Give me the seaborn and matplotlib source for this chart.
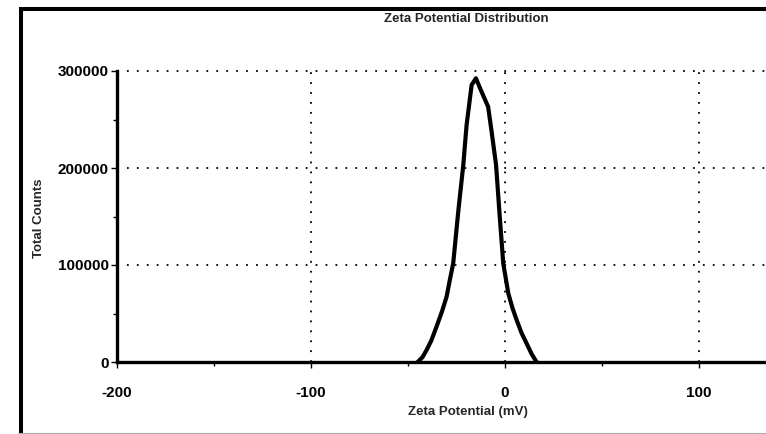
import matplotlib
matplotlib.use("Agg")
import matplotlib.pyplot as plt
import seaborn as sns
import pandas as pd
from matplotlib.lines import Line2D

# Data
zeta_mv = [-45, -42.5, -40.4, -38.0, -35.3, -32.5, -30.1, -28.5, -26.7, -24.1, -21.5,
           -19.8, -17.2, -15.0, -12.1, -8.7, -6.9, -4.6, -2.9, -0.9, 1.7, 3.8,
           6.0, 8.5, 11.1, 13.8, 16.3]
total_counts = [0, 5000, 12400, 22000, 36400, 52000, 67300, 84000, 101700, 155000, 203100,
                244300, 285600, 292500, 278700, 263200, 237400, 203100, 155000, 101700, 70800, 56000,
                43300, 30000, 19300, 8000, 0]
x_ticks = [-200, -100, 0, 100]
y_ticks = [0, 100000, 200000, 300000]

sns.set_style("white")
plt.rcParams['font.family'] = ['Liberation Sans', 'DejaVu Sans']

W, H = 766, 434
fig = plt.figure(figsize=(W / 100, H / 100), dpi=100)
ax_l, ax_r, ax_b, ax_t = 117, 766, 362, 69
ax = fig.add_axes([ax_l / W, 1 - ax_b / H, (ax_r - ax_l) / W, (ax_b - ax_t) / H])

df = pd.DataFrame({"Zeta Potential (mV)": zeta_mv, "Total Counts": total_counts})
sns.lineplot(data=df, x="Zeta Potential (mV)", y="Total Counts", ax=ax,
             color="black", linewidth=3.0, sort=False, zorder=5)

ax.set_xlim(-200, -200 + (ax_r - ax_l) / 1.94)
ax.set_ylim(0, (ax_b - ax_t) / 0.97 * 1000)

# grid
for gx in x_ticks[1:]:
    ax.plot([gx, gx], [0, 300000], color="black", lw=1.3, linestyle=(0, (1, 4.5)), zorder=1)
for gy in y_ticks[1:]:
    ax.axhline(gy, color="black", lw=1.3, linestyle=(0, (1, 4.5)), zorder=1)

ax.set_xticks(x_ticks)
ax.set_xticklabels([str(v) for v in x_ticks])
ax.set_yticks(y_ticks)
ax.set_yticklabels([str(v) for v in y_ticks])
ax.set_xticks([-150, -50, 50], minor=True)
ax.set_yticks([50000, 150000, 250000], minor=True)

ax.tick_params(axis="both", which="major", direction="out", length=4, width=1,
               colors="black", labelsize=11)
ax.tick_params(axis="both", which="minor", direction="out", length=3, width=1, colors="black")
ax.tick_params(axis="x", which="major", pad=13, bottom=True)
ax.tick_params(axis="y", which="major", pad=2, left=True)
ax.tick_params(axis="x", which="minor", bottom=True)
ax.tick_params(axis="y", which="minor", left=True)
for lab in ax.get_xticklabels() + ax.get_yticklabels():
    lab.set_fontweight("bold")

for s in ["top", "right"]:
    ax.spines[s].set_visible(False)
for s in ["left", "bottom"]:
    ax.spines[s].set_color("black")
    ax.spines[s].set_linewidth(2.4)
ax.spines["left"].set_bounds(0, 300000)

ax.set_xlabel("Zeta Potential (mV)", fontsize=9.5, fontweight="bold", ha="center", va="center")
ax.xaxis.set_label_coords((468 - ax_l) / (ax_r - ax_l), (ax_b - 412) / (ax_b - ax_t))
ax.set_ylabel("Total Counts", fontsize=9.5, fontweight="bold", ha="center", va="center")
ax.yaxis.set_label_coords((39 - ax_l) / (ax_r - ax_l), (ax_b - 218) / (ax_b - ax_t))

fig.text(466 / W, 1 - 19 / H, "Zeta Potential Distribution", fontsize=9.5, fontweight="bold",
         ha="center", va="center")

# frame lines of the original picture
fig.add_artist(Line2D([20.5 / W, 20.5 / W], [0, 1 - 7 / H], color="black", lw=2.9,
                      solid_capstyle="butt", transform=fig.transFigure))
fig.add_artist(Line2D([18.5 / W, 1], [1 - 8.7 / H, 1 - 8.7 / H], color="black", lw=2.9,
                      solid_capstyle="butt", transform=fig.transFigure))
fig.add_artist(Line2D([18 / W, 1], [1 - 432.5 / H, 1 - 432.5 / H], color="#aaaaaa", lw=0.8,
                      solid_capstyle="butt", transform=fig.transFigure))

fig.savefig("out.png", dpi=100)
